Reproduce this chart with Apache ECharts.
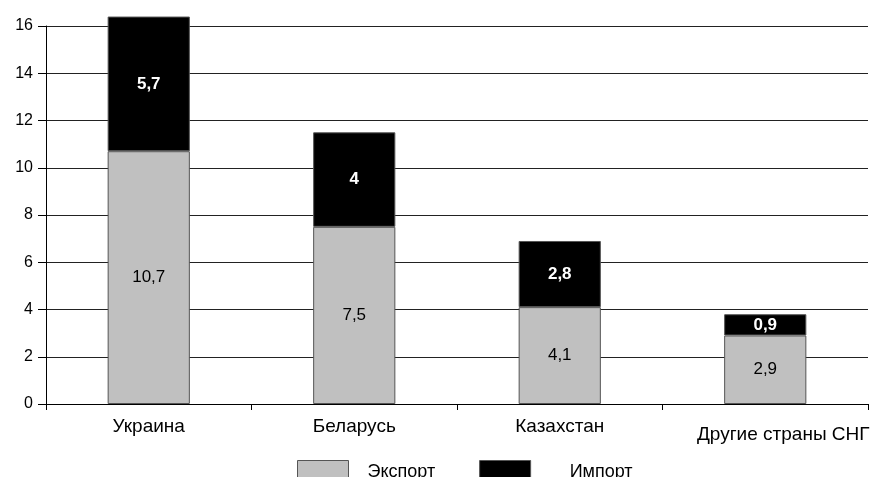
<!DOCTYPE html>
<html>
<head>
<meta charset="utf-8">
<script src="https://cdn.jsdelivr.net/npm/echarts@6/dist/echarts.min.js"></script>
<style>
  html, body { margin: 0; padding: 0; background: #ffffff; }
  #chart { width: 880px; height: 477px; }
</style>
</head>
<body>
<div id="chart"></div>
<script>
// Trade with CIS countries: export and import volumes
const countries = ['Украина', 'Беларусь', 'Казахстан', 'Другие страны СНГ'];
const exportValues = [10.7, 7.5, 4.1, 2.9];
const importValues = [5.7, 4, 2.8, 0.9];
const seriesNames = ['Экспорт', 'Импорт'];

const fmt = p => String(p.value).replace('.', ',');
const font = '"Liberation Sans", Arial, sans-serif';

// the long last category label sits a little to the right and lower
const categoryData = countries.map((c, i) =>
  i === countries.length - 1
    ? { value: c, textStyle: { padding: [8, 0, 0, 36] } }
    : c
);

const chart = echarts.init(document.getElementById('chart'), null, { renderer: 'canvas' });
chart.setOption({
  animation: false,
  backgroundColor: '#ffffff',
  textStyle: { fontFamily: font },
  grid: { left: 46, right: 12, top: 26, bottom: 73, containLabel: false },
  legend: {
    left: 297, top: 460, padding: 0,
    itemWidth: 51, itemHeight: 24, itemGap: 44,
    icon: 'rect',
    itemStyle: { borderColor: '#555', borderWidth: 1 },
    textStyle: { fontFamily: font, fontSize: 18, color: '#000', padding: [0, 0, 0, 14] },
    data: [
      { name: seriesNames[0] },
      { name: seriesNames[1], textStyle: { padding: [0, 0, 0, 34] } }
    ]
  },
  xAxis: {
    type: 'category',
    data: categoryData,
    boundaryGap: true,
    axisLine: { lineStyle: { color: '#000', width: 1 } },
    axisTick: { show: true, interval: 0, length: 6, lineStyle: { color: '#000' } },
    axisLabel: { interval: 0, color: '#000', fontSize: 19, fontFamily: font, margin: 13, hideOverlap: false }
  },
  yAxis: {
    type: 'value',
    min: 0, max: 16, interval: 2,
    axisLine: { show: true, lineStyle: { color: '#000', width: 1 } },
    axisTick: { show: true, length: 8, lineStyle: { color: '#000' } },
    axisLabel: { color: '#000', fontSize: 16, fontFamily: font, margin: 13 },
    splitLine: { show: true, lineStyle: { color: '#222', width: 1 } }
  },
  series: [
    {
      name: seriesNames[0],
      type: 'bar',
      stack: 'trade',
      data: exportValues,
      barWidth: '40%',
      clip: false,
      itemStyle: { color: '#c0c0c0', borderColor: '#555', borderWidth: 1 },
      label: { show: true, position: 'inside', color: '#000', fontSize: 17, fontFamily: font, formatter: fmt }
    },
    {
      name: seriesNames[1],
      type: 'bar',
      stack: 'trade',
      data: importValues,
      barWidth: '40%',
      clip: false,
      itemStyle: { color: '#000000', borderColor: '#555', borderWidth: 1 },
      label: { show: true, position: 'inside', color: '#fff', fontSize: 17, fontWeight: 'bold', fontFamily: font, formatter: fmt }
    }
  ]
});
</script>
</body>
</html>
